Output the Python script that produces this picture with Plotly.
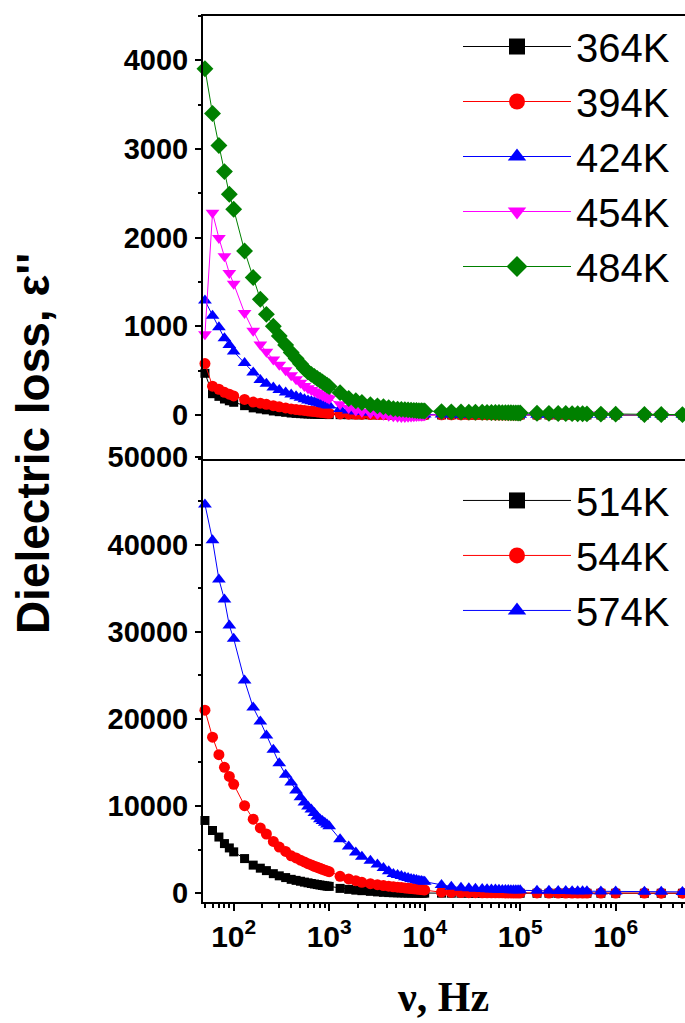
import plotly.graph_objects as go

# ---------------- data ----------------
freq = [50, 60, 70, 80, 90, 100,
        130, 160, 190, 220, 260, 300, 350, 400, 450, 500, 550, 600, 650, 700, 750, 800, 850, 900, 950, 1000,
        1300, 1600, 1900, 2200, 2700, 3200, 3700, 4200, 4700, 5200, 5700, 6200, 6700, 7200, 7700, 8200, 8700, 9200, 9600, 10000,
        15000, 19000, 24000, 29000, 34000, 40000, 45000, 50000, 55000, 60000, 65000, 70000, 75000, 80000, 85000, 90000, 95000, 100000,
        150000, 200000, 250000, 300000, 350000, 400000, 450000, 500000, 700000, 1000000,
        2000000, 3000000, 5000000]

eps_364K = [470, 240, 210, 180, 160, 143,
            105, 80, 68, 58, 45, 37, 30, 22, 18, 15, 13, 11, 10, 9, 8, 7, 6, 5, 5, 4,
            3.5, 3.0, 2.6, 2.3, 2.0, 1.8, 1.6, 1.5, 1.4, 1.3, 1.2, 1.1, 1.1, 1.0, 1.0, 0.9, 0.9, 0.9, 0.8, 0.8,
            0.7, 0.6, 0.6, 0.5, 0.5, 0.5, 0.4, 0.4, 0.4, 0.4, 0.4, 0.3, 0.3, 0.3, 0.3, 0.3, 0.3, 0.3,
            0.3, 0.2, 0.2, 0.2, 0.2, 0.2, 0.2, 0.2, 0.1, 0.1,
            0.1, 0.1, 0.1]
eps_394K = [580, 325, 290, 255, 235, 215,
            175, 145, 133, 120, 105, 92, 80, 68, 61, 56, 51, 46, 42, 38, 34, 31, 28, 25, 22, 19,
            12, 9, 7, 6, 5, 4.5, 4, 3.6, 3.3, 3.0, 2.8, 2.6, 2.5, 2.4, 2.3, 2.2, 2.1, 2.0, 2.0, 1.9,
            1.6, 1.5, 1.4, 1.3, 1.2, 1.2, 1.1, 1.1, 1.0, 1.0, 1.0, 0.9, 0.9, 0.9, 0.9, 0.8, 0.8, 0.8,
            0.7, 0.6, 0.6, 0.5, 0.5, 0.5, 0.5, 0.4, 0.4, 0.3,
            0.3, 0.2, 0.2]
eps_424K = [1290, 1120, 990, 865, 790, 715,
            585, 480, 395, 352, 310, 283, 254, 230, 210, 193, 177, 164, 155, 147, 139, 131, 124, 118, 111, 106,
            66, 50, 40, 33, 26, 21, 17, 13, 11, 9, 8, 7.5, 7, 6.5, 6, 5.8, 5.5, 5.3, 5.1, 5.0,
            4.2, 3.9, 3.7, 3.5, 3.4, 3.3, 3.2, 3.1, 3.0, 3.0, 2.9, 2.9, 2.8, 2.8, 2.8, 2.7, 2.7, 2.7,
            2.5, 2.4, 2.3, 2.2, 2.2, 2.1, 2.1, 2.0, 1.9, 1.8,
            1.6, 1.5, 1.4]
eps_454K = [910, 2280, 1995, 1790, 1600, 1480,
            1150, 950, 795, 714, 627, 567, 503, 448, 404, 364, 328, 301, 282, 266, 249, 234, 220, 207, 194, 182,
            120, 80, 50, 35, 20, 10, 3, -8, -15, -20, -22, -22, -20, -18, -15, -12, -10, -8, -5, -2,
            8, 10, 11, 12, 12, 12, 12, 12, 12, 12, 12, 12, 11, 11, 11, 11, 11, 11,
            10, 10, 9, 9, 9, 8, 8, 8, 7, 6,
            5, 4, 3]
eps_484K = [3905, 3400, 3040, 2745, 2490, 2320,
            1850, 1550, 1305, 1135, 1000, 890, 790, 705, 636, 577, 523, 485, 458, 435, 412, 391, 372, 353, 335, 320,
            252, 185, 160, 140, 116, 103, 92, 82, 70, 66, 63, 60, 57, 55, 52, 50, 48, 47, 46, 45,
            38, 35, 33, 32, 31, 30, 29, 28, 27, 27, 26, 26, 25, 25, 24, 24, 23, 23,
            20, 18, 17, 16, 15, 14, 13, 12, 10, 9,
            6, 5, 4]

eps_514K = [8350, 7200, 6450, 5700, 5200, 4750,
            3980, 3230, 2880, 2600, 2250, 2000, 1800, 1600, 1480, 1380, 1280, 1200, 1120, 1060, 1000, 950, 900, 860, 820, 790,
            560, 450, 360, 300, 220, 160, 110, 80, 60, 50, 40, 35, 30, 28, 26, 24, 22, 20, 19, 18,
            12, 10, 9, 8, 7, 7, 6, 6, 6, 5, 5, 5, 5, 5, 4, 4, 4, 4,
            3, 3, 3, 3, 3, 2, 2, 2, 2, 2,
            2, 1, 1]
eps_544K = [21000, 17900, 15900, 14450, 13400, 12500,
            10050, 8500, 7500, 6800, 5950, 5300, 4800, 4300, 4050, 3800, 3600, 3400, 3250, 3100, 2980, 2860, 2750, 2650, 2560, 2480,
            1950, 1650, 1450, 1260, 1100, 980, 890, 810, 750, 700, 650, 610, 570, 540, 510, 480, 450, 420, 400, 380,
            130, 100, 85, 75, 68, 62, 58, 55, 52, 50, 48, 46, 45, 44, 43, 42, 41, 40,
            36, 33, 31, 30, 29, 28, 27, 26, 24, 22,
            18, 16, 14]
eps_574K = [44600, 40500, 36000, 33700, 30700, 29200,
            24400, 21300, 19700, 18100, 16450, 14900, 13600, 12700, 11800, 11000, 10400, 9950, 9600, 9200, 8800, 8500, 8300, 8100, 7900, 7700,
            6200, 5360, 4680, 4200, 3730, 3300, 2890, 2530, 2220, 2100, 1970, 1850, 1740, 1650, 1580, 1510, 1450, 1400, 1360, 1320,
            940, 760, 640, 580, 530, 490, 460, 440, 420, 400, 390, 380, 370, 360, 350, 345, 340, 335,
            300, 280, 265, 255, 245, 240, 235, 230, 215, 200,
            180, 170, 160]

top_names = ["364K", "394K", "424K", "454K", "484K"]
top_series = [eps_364K, eps_394K, eps_424K, eps_454K, eps_484K]
bottom_names = ["514K", "544K", "574K"]
bottom_series = [eps_514K, eps_544K, eps_574K]

x_tick_vals = [2, 3, 4, 5, 6]   # decades (labels rendered as powers of ten)

# ---------------- styles ----------------
top_styles = [("#000000", "square", 9, 16),
              ("#ff0000", "circle", 11, 18),
              ("#0000ff", "triangle-up", 12, 20),
              ("#ff00ff", "triangle-down", 12, 20),
              ("#008000", "diamond", 13, 20)]
bottom_styles = [("#000000", "square", 9, 16),
                 ("#ff0000", "circle", 11, 18),
                 ("#0000ff", "triangle-up", 12, 20)]

fig = go.Figure()

def add_series(names, series, styles, xa, ya, legend):
    for name, vals, (col, sym, ms, lms) in zip(names, series, styles):
        fig.add_trace(go.Scatter(
            x=freq, y=vals, name=name, mode="lines+markers",
            xaxis=xa, yaxis=ya, showlegend=False, cliponaxis=False,
            line=dict(color=col, width=1),
            marker=dict(symbol=sym, size=ms, color=col, line=dict(width=0)),
        ))
    for name, (col, sym, ms, lms) in zip(names, styles):
        fig.add_trace(go.Scatter(
            x=[None], y=[None], name=name, mode="lines+markers",
            xaxis=xa, yaxis=ya, showlegend=True, legend=legend,
            line=dict(color=col, width=1),
            marker=dict(symbol=sym, size=lms, color=col, line=dict(width=0)),
        ))

add_series(top_names, top_series, top_styles, "x2", "y2", "legend")
add_series(bottom_names, bottom_series, bottom_styles, "x", "y", "legend2")

W, H = 685, 1023
ML, MR, MT, MB = 203, 0, 10, 121
PH = H - MT - MB
PB = H - MB  # pixel row of the plot bottom

tickfont = dict(family="Liberation Sans", size=29, color="black", weight="bold")
legfont = dict(family="Liberation Sans", size=40, color="black")

xrange_ = [1.6785, 6.726]

common_x = dict(type="log", range=xrange_, showgrid=False, zeroline=False,
                showline=True, linewidth=2, linecolor="black", mirror=True)

fig.update_layout(
    width=W, height=H,
    margin=dict(l=ML, r=MR, t=MT, b=MB, pad=0),
    paper_bgcolor="white", plot_bgcolor="white",
    xaxis=dict(**common_x, anchor="y", domain=[0, 1],
               tickmode="array", tickvals=[10 ** v for v in x_tick_vals],
               ticktext=["10<sup>%d</sup>" % v for v in x_tick_vals],
               ticks="outside", ticklen=7, tickwidth=2, tickcolor="black",
               tickfont=dict(family="Liberation Sans", size=30, color="black", weight="bold"),
               minor=dict(ticks="outside", ticklen=4, tickwidth=1.5, tickcolor="black",
                          dtick="D1", showgrid=False)),
    xaxis2=dict(**common_x, anchor="y2", domain=[0, 1], matches="x",
                ticks="", showticklabels=False),
    yaxis=dict(domain=[0, (PB - 454.3) / PH], range=[-1000, 50000], anchor="x",
               tick0=0, dtick=10000, tickformat="d", exponentformat="none",
               ticks="outside", ticklen=6, tickwidth=2, tickcolor="black",
               minor=dict(ticks="outside", ticklen=3, tickwidth=1.5, tickcolor="black",
                          dtick=5000, showgrid=False),
               showline=True, linewidth=2, linecolor="black", mirror=False,
               showgrid=False, zeroline=False, tickfont=tickfont, ticklabelstandoff=1),
    yaxis2=dict(domain=[(PB - 456.3) / PH, 1], range=[-500, 4500], anchor="x2",
                tick0=0, dtick=1000, tickformat="d", exponentformat="none",
                ticks="outside", ticklen=6, tickwidth=2, tickcolor="black",
                minor=dict(ticks="outside", ticklen=3, tickwidth=1.5, tickcolor="black",
                           dtick=500, showgrid=False),
                showline=True, linewidth=2, linecolor="black", mirror=False,
                showgrid=False, zeroline=False, tickfont=tickfont, ticklabelstandoff=1),
    legend=dict(x=(458 - ML) / 482, y=(PB - 8) / PH, xanchor="left", yanchor="top",
                font=legfont, itemwidth=108, bgcolor="rgba(0,0,0,0)", borderwidth=0,
                tracegroupgap=0, itemsizing="trace"),
    legend2=dict(x=(458 - ML) / 482, y=(PB - 465) / PH, xanchor="left", yanchor="top",
                 font=legfont, itemwidth=108, bgcolor="rgba(0,0,0,0)", borderwidth=0,
                 tracegroupgap=0, itemsizing="trace"),
    annotations=[
        dict(text="Dielectric loss, \u03b5''", xref="paper", yref="paper",
             x=(33 - ML) / 482, y=(PB - 441) / PH, xanchor="center", yanchor="middle",
             textangle=-90, showarrow=False,
             font=dict(family="Liberation Sans", size=46, color="black", weight="bold")),
        dict(text="\u03bd, Hz", xref="paper", yref="paper",
             x=(443 - ML) / 482, y=(PB - 998) / PH, xanchor="center", yanchor="middle",
             showarrow=False,
             font=dict(family="Liberation Serif", size=42, color="black", weight="bold")),
    ],
)

fig.write_html("out.html")
